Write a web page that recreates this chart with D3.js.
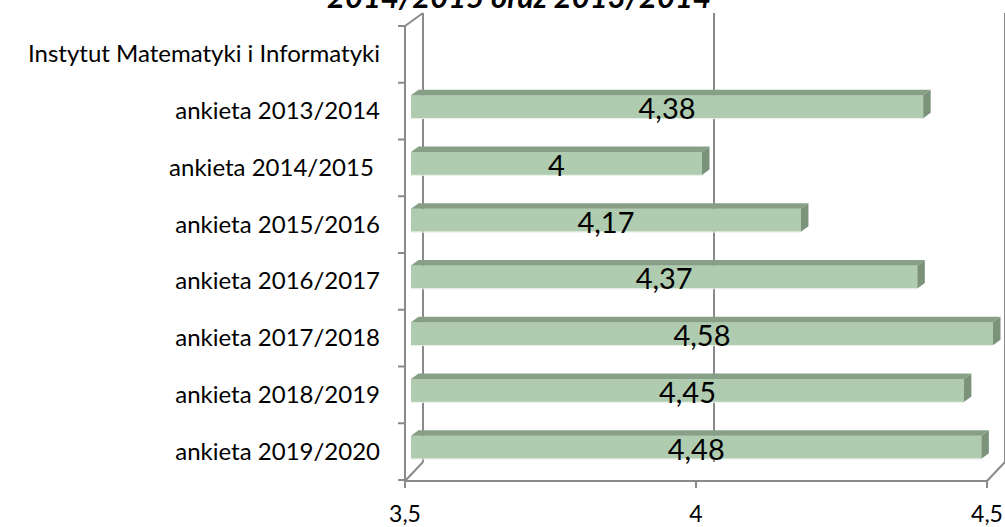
<!DOCTYPE html>
<html><head><meta charset="utf-8">
<script src="https://cdn.jsdelivr.net/npm/d3@7"></script>
<style>
html,body{margin:0;padding:0;background:#fff;}
svg{display:block;font-family:Lato, "Open Sans", sans-serif;}
</style></head>
<body>
<svg id="chart" width="1005" height="527"></svg>
<script>
const titleText = "2014/2015 oraz 2013/2014";
const categories = ["Instytut Matematyki i Informatyki","ankieta 2013/2014","ankieta 2014/2015\u00a0","ankieta 2015/2016","ankieta 2016/2017","ankieta 2017/2018","ankieta 2018/2019","ankieta 2019/2020"];
const values = [null, 4.38, 4, 4.17, 4.37, 4.58, 4.45, 4.48];
const xTicks = [3.5, 4, 4.5];

const svg = d3.select("#chart");
const gridCol = "#8a8a8a";
const xMin = 3.5, xMax = 4.5;

// front plane, back wall and bar plane scales
const xFront = d3.scaleLinear().domain([xMin, xMax]).range([405, 987]);
const xBack  = d3.scaleLinear().domain([xMin, xMax]).range([423, 1005]);
const xBar   = d3.scaleLinear().domain([xMin, xMax]).range([411, 993]).clamp(true);
const y = d3.scaleBand().domain(categories).range([26, 480]);
const yTopBack = 13, yBotBack = 462, yBotFront = 481;
const fmt = v => String(v).replace(".", ",");

// title (mostly cut off at the top, as in the original)
svg.append("text").attr("x", 519).attr("y", 8).attr("text-anchor","middle")
  .attr("font-size", 31).attr("font-weight","bold").attr("font-style","italic")
  .attr("fill","#000").text(titleText);

// back wall gridlines
svg.selectAll("line.grid").data(xTicks).enter().append("line")
  .attr("x1", d => xBack(d)).attr("x2", d => xBack(d))
  .attr("y1", yTopBack).attr("y2", yBotBack)
  .attr("stroke", gridCol).attr("stroke-width", 2);

// left wall edges
const g = svg.append("g").attr("stroke", gridCol).attr("stroke-width", 2).attr("fill","none");
g.append("line").attr("x1", xFront(xMin)).attr("x2", xFront(xMin)).attr("y1", y.range()[0]).attr("y2", yBotFront);
g.append("line").attr("x1", xFront(xMin)).attr("x2", xBack(xMin)).attr("y1", y.range()[0]).attr("y2", yTopBack);
g.append("line").attr("x1", xFront(xMin)).attr("x2", xBack(xMin)).attr("y1", yBotFront).attr("y2", yBotBack);
g.append("line").attr("x1", xFront(xMax)).attr("x2", xBack(xMax)).attr("y1", yBotFront).attr("y2", yBotBack);
// front bottom axis line
g.append("line").attr("x1", xFront(xMin)-1).attr("x2", xFront(xMax)).attr("y1", yBotFront).attr("y2", yBotFront);

// category ticks
const bounds = categories.map(c => y(c)).concat([y.range()[1]]);
g.selectAll("line.ct").data(bounds).enter().append("line")
  .attr("x1", xFront(xMin)-7).attr("x2", xFront(xMin)).attr("y1", d => d).attr("y2", d => d);
// value ticks
g.selectAll("line.vt").data(xTicks).enter().append("line")
  .attr("x1", d => xFront(d)).attr("x2", d => xFront(d)).attr("y1", yBotFront).attr("y2", yBotFront+7);

// category labels
svg.selectAll("text.cat").data(categories).enter().append("text")
  .attr("x", 380).attr("y", d => y(d) + y.bandwidth()/2 + 8)
  .attr("text-anchor","end")
  .attr("font-size", 24).attr("fill","#000").text(d => d);

// value tick labels
svg.selectAll("text.vl").data(xTicks).enter().append("text")
  .attr("x", d => xFront(d)).attr("y", 522)
  .attr("text-anchor","middle")
  .attr("font-size", 23).attr("fill","#000").text(d => fmt(d));

// 3D bars
const dx = 7.5, dy = 5.5, bh = 23;
const barData = categories.map((c, i) => ({c, v: values[i]})).filter(d => d.v != null);
const bars = svg.selectAll("g.bar").data(barData).enter().append("g");
bars.each(function(d) {
  const gg = d3.select(this);
  const x0 = xBar(xMin), x1 = xBar(d.v);
  const fy = y(d.c) + y.bandwidth()/2 - 4.5 - bh/2;
  gg.append("rect").attr("x", x0).attr("y", fy).attr("width", x1 - x0).attr("height", bh)
    .attr("fill", "#b0ccb0");
  gg.append("line").attr("x1", x0).attr("x2", x1).attr("y1", fy+bh+0.5).attr("y2", fy+bh+0.5)
    .attr("stroke","#e6efe6").attr("stroke-width",1);
  gg.append("polygon").attr("points", [[x0,fy],[x1,fy],[x1+dx,fy-dy],[x0+dx,fy-dy]].map(p=>p.join(",")).join(" "))
    .attr("fill", "#879f87");
  gg.append("polygon").attr("points", [[x1,fy],[x1+dx,fy-dy],[x1+dx,fy+bh-dy],[x1,fy+bh]].map(p=>p.join(",")).join(" "))
    .attr("fill", "#7b937b");
  gg.append("text").attr("x", (x0+x1)/2).attr("y", fy + bh + 1)
    .attr("text-anchor","middle")
    .attr("font-size", 29).attr("fill","#000").text(fmt(d.v));
});
</script>
</body></html>
